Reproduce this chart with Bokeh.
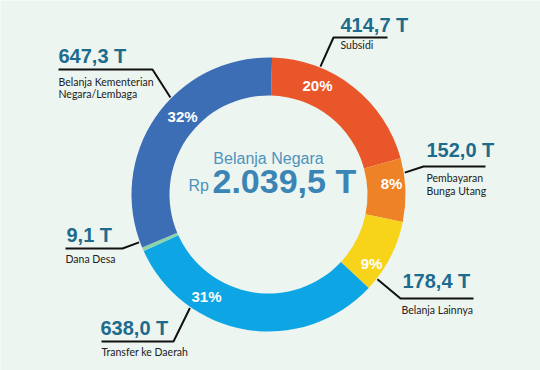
import math
from bokeh.plotting import figure
from bokeh.models import Range1d, ColumnDataSource
from bokeh.core.properties import value
from bokeh.embed import file_html
from bokeh.resources import INLINE

# ---------------- data ----------------
categories = ["Subsidi", "Pembayaran Bunga Utang", "Belanja Lainnya",
              "Transfer ke Daerah", "Dana Desa", "Belanja Kementerian Negara/Lembaga"]
values_t = [414.7, 152.0, 178.4, 638.0, 9.1, 647.3]
value_labels = ["414,7 T", "152,0 T", "178,4 T", "638,0 T", "9,1 T", "647,3 T"]
pct_labels = ["20%", "8%", "9%", "31%", "", "32%"]
name_lines = [["Subsidi"], ["Pembayaran", "Bunga Utang"], ["Belanja Lainnya"],
              ["Transfer ke Daerah"], ["Dana Desa"], ["Belanja Kementerian", "Negara/Lembaga"]]
title_label = "Belanja Negara"
currency_label = "Rp"
total_label = "2.039,5 T"

# ---------------- style / layout ----------------
colors = ["#E8562A", "#EE8226", "#F7D31A", "#0EA5E4", "#8DD3AA", "#3C6EB6"]
BG = "#EDF5F0"
VAL_COLOR = "#1D6B8D"
CX, CY = 268, 194          # reference pixel coordinates of the ring centre
R_OUT, R_IN = 137, 99
ROT = 1.5                  # degrees clockwise from 12 o'clock where the ring starts

W, H = 540, 370
def Y(y):
    return H - y

# percentage label positions (angle from top clockwise, radius)
pct_pos = [(24.2, 119.5), (84.9, 123.5), (123.8, 124), (211.3, 119.4), (0, 0), (312.2, 116)]
# leader lines: ring anchor angle, elbow, end (reference pixels)
leaders = [(22.1, (333, 37), (387, 37)),
           (80.9, (423, 166), (485, 166)),
           (127.9, (400, 298), (473, 298)),
           (214.7, (173, 341), (101, 341)),
           (249.7, (122, 248), (65, 248)),
           (314.7, (152, 69), (58, 69))]
# value label (left x, vertical centre) and name line centres
val_pos = [(340, 24.5), (426, 149.5), (402, 280.5), (100, 327), (66, 234.5), (58, 55)]
name_mid = [[44], [177, 190], [309], [351], [258], [81, 93.5]]
name_x = [340, 426, 401, 101, 65, 58]

p = figure(width=W, height=H, x_range=Range1d(0, W), y_range=Range1d(0, H),
           output_backend="svg", toolbar_location=None, min_border=0,
           x_axis_type=None, y_axis_type=None)
p.grid.visible = False
p.outline_line_color = None
p.background_fill_color = BG
p.border_fill_color = BG

# ---------------- ring ----------------
total = sum(values_t)
starts, ends = [], []
cum = 0.0
for v in values_t:
    a0 = ROT + 360.0 * cum / total
    cum += v
    a1 = ROT + 360.0 * cum / total
    starts.append(math.radians(90 - a0))
    ends.append(math.radians(90 - a1))

ring = ColumnDataSource(dict(start=starts, end=ends, color=colors, cat=categories, val=values_t))
p.annular_wedge(x=CX, y=Y(CY), inner_radius=R_IN, outer_radius=R_OUT,
                start_angle="start", end_angle="end", direction="clock",
                fill_color="color", line_color=None, source=ring)

# ---------------- percentage labels ----------------
px, py, pt = [], [], []
for (ang, r), lab in zip(pct_pos, pct_labels):
    if not lab:
        continue
    a = math.radians(ang)
    px.append(CX + r * math.sin(a))
    py.append(Y(CY) + r * math.cos(a))
    pt.append(lab)
p.text(x=px, y=py, text=pt, text_color="white", text_font=value("Liberation Sans"),
       text_font_style="bold", text_font_size="15px", text_align="center",
       text_baseline="middle")

# ---------------- leader lines ----------------
xs, ys = [], []
for ang, elbow, end in leaders:
    a = math.radians(ang)
    r = R_OUT + 1
    ax = CX + r * math.sin(a)
    ay = Y(CY) + r * math.cos(a)
    xs.append([ax, elbow[0], end[0]])
    ys.append([ay, Y(elbow[1]), Y(end[1])])
p.multi_line(xs=xs, ys=ys, line_color="#111111", line_width=2)

# ---------------- value labels ----------------
p.text(x=[v[0] for v in val_pos], y=[Y(v[1]) for v in val_pos], text=value_labels,
       text_color=VAL_COLOR, text_font=value("Liberation Sans"), text_font_style="bold",
       text_font_size="20px", text_align="left", text_baseline="middle")

nx, ny, nt = [], [], []
for lines, mids, x0 in zip(name_lines, name_mid, name_x):
    for ln, m in zip(lines, mids):
        nx.append(x0)
        ny.append(Y(m))
        nt.append(ln)
p.text(x=nx, y=ny, text=nt, text_color="#222222", text_font=value("Lato"),
       text_font_size="10.5px", text_align="left", text_baseline="middle")

# ---------------- centre text ----------------
p.text(x=[CX], y=[Y(157.5)], text=[title_label], text_color="#4D93BC",
       text_font=value("Liberation Sans"), text_font_size="16px",
       text_align="center", text_baseline="middle")
p.text(x=[188], y=[Y(185)], text=[currency_label], text_color="#4D93BC",
       text_font=value("Liberation Sans"), text_font_size="16px",
       text_align="left", text_baseline="middle")
p.text(x=[212], y=[Y(180.5)], text=[total_label], text_color="#3A85B5",
       text_font=value("Liberation Sans"), text_font_style="bold", text_font_size="34px",
       text_align="left", text_baseline="middle")

open("out.html", "w").write(file_html(p, INLINE))
